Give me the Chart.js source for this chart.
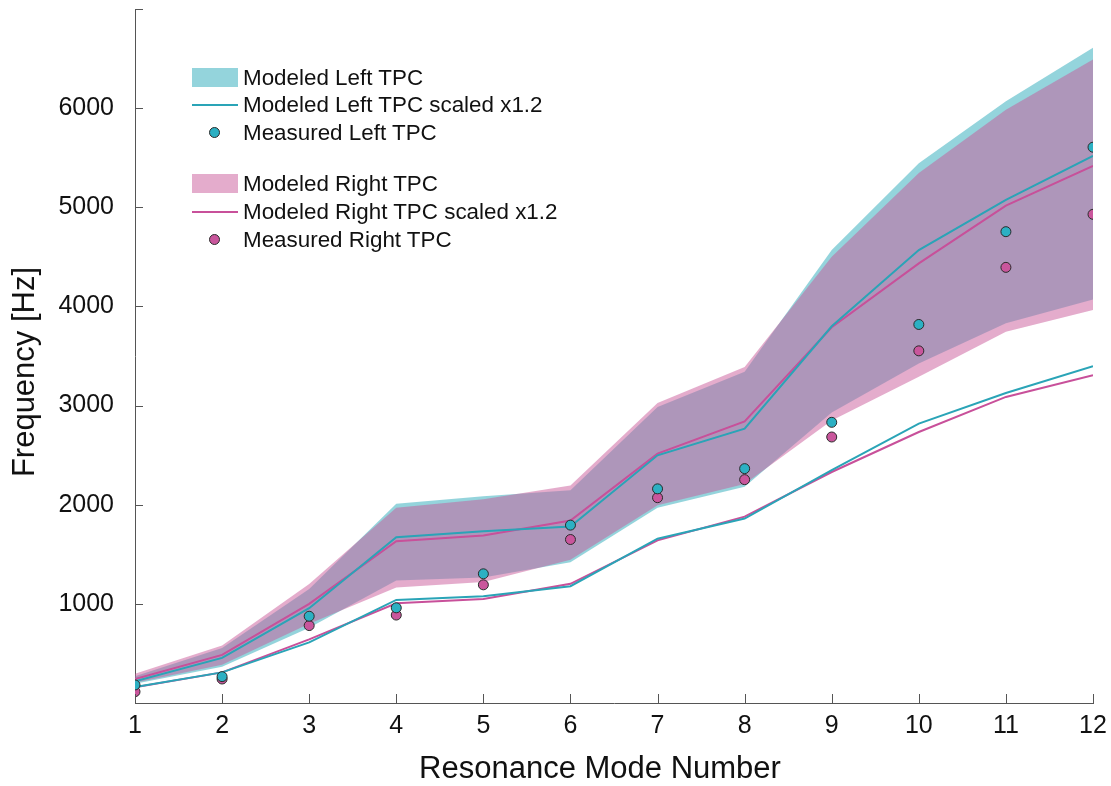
<!DOCTYPE html>
<html>
<head>
<meta charset="utf-8">
<title>Resonance modes of the left and right TPC</title>
<script src="https://cdn.jsdelivr.net/npm/chart.js@4.4.1/dist/chart.umd.min.js"></script>
<style>
  html, body { margin: 0; padding: 0; background: #ffffff; }
  #wrap { position: relative; width: 1111px; height: 786px; overflow: hidden; font-family: 'Liberation Sans', Arial, Helvetica, sans-serif; }
  canvas { display: block; }
  #legend { position: absolute; left: 0; top: 0; font-size: 22.4px; color: #111; }
  .row { position: absolute; left: 192px; height: 28px; line-height: 28px; white-space: nowrap; }
  .key { position: absolute; left: 0; top: 0; width: 46px; height: 28px; }
  .txt { position: absolute; left: 51px; top: 0; }
  .axis-title { position: absolute; font-size: 31px; line-height: 36px; height: 36px; color: #111; text-align: center; white-space: nowrap; }
  #xTitle { left: 300px; top: 750px; width: 600px; }
  #yTitle { left: -176px; top: 354px; width: 400px; transform: rotate(-90deg); }
</style>
</head>
<body>
<div id="wrap">
  <canvas id="chart" width="1111" height="786"></canvas>
  <div id="legend"></div>
  <div id="xTitle" class="axis-title"></div>
  <div id="yTitle" class="axis-title"></div>
</div>
<script>
// Resonance mode numbers (x axis)
const modes = [1, 2, 3, 4, 5, 6, 7, 8, 9, 10, 11, 12];

// Modeled left TPC: range of the model (upper / lower bound)
const leftBandUpper = [270, 555, 1150, 2010, 2085, 2145, 2985, 3340, 4570, 5445, 6070, 6610];
const leftBandLower = [195, 365, 760, 1235, 1265, 1420, 1970, 2180, 2930, 3425, 3830, 4070];

// Modeled right TPC: range of the model (upper / lower bound)
const rightBandUpper = [295, 580, 1200, 1970, 2055, 2195, 3025, 3390, 4500, 5345, 5985, 6490];
const rightBandLower = [205, 385, 800, 1165, 1220, 1445, 1995, 2210, 2850, 3290, 3745, 3965];

// Modeled TPC scaled x1.2 curves
const leftScaledUpper  = [218, 455, 956, 1673, 1733, 1781, 2498, 2767, 3800, 4569, 5074, 5518];
const leftScaledLower  = [160, 309, 612, 1040, 1077, 1178, 1657, 1860, 2350, 2818, 3127, 3397];
const rightScaledUpper = [242, 485, 1000, 1632, 1690, 1841, 2515, 2841, 3790, 4434, 5016, 5417];
const rightScaledLower = [158, 309, 642, 1006, 1050, 1202, 1640, 1880, 2330, 2733, 3087, 3306];

// Measured frequencies
const measuredLeft  = [182, 266, 875, 960, 1303, 1794, 2160, 2364, 2831, 3818, 4754, 5606];
const measuredRight = [114, 242, 781, 887, 1192, 1649, 2071, 2253, 2683, 3552, 4394, 4929];

// Axis tick labels and titles
const xTickLabels = ['1', '2', '3', '4', '5', '6', '7', '8', '9', '10', '11', '12'];
const yTickValues = [1000, 2000, 3000, 4000, 5000, 6000];
const xAxisTitle = 'Resonance Mode Number';
const yAxisTitle = 'Frequency [Hz]';

// Legend entries
const legendLabels = [
  'Modeled Left TPC', 'Modeled Left TPC scaled x1.2', 'Measured Left TPC',
  'Modeled Right TPC', 'Modeled Right TPC scaled x1.2', 'Measured Right TPC'
];

const FONT = "'Liberation Sans', Arial, Helvetica, sans-serif";
const leftFill = 'rgba(41,169,185,0.5)';
const rightFill = 'rgba(201,89,153,0.5)';
const leftLine = '#2aa4b7';
const rightLine = '#c8509a';
const leftDot = '#2cb0c3';
const rightDot = '#c9569c';
const dotEdge = '#2a2a2a';
const axisColor = '#555555';

const pts = arr => arr.map((v, i) => ({ x: modes[i], y: v }));

const band = (upper, lower, color, ord) => [
  { data: pts(upper), borderWidth: 0, pointRadius: 0, backgroundColor: color, fill: '+1', order: ord },
  { data: pts(lower), borderWidth: 0, pointRadius: 0, backgroundColor: color, fill: false, order: ord }
];
const curve = (arr, color, label) => ({
  label, data: pts(arr), borderColor: color, borderWidth: 2, pointRadius: 0, fill: false, order: 1, tension: 0
});
const dots = (arr, color, label) => ({
  label, data: pts(arr), showLine: false, pointRadius: 5, pointHoverRadius: 5,
  pointBackgroundColor: color, pointBorderColor: dotEdge, pointBorderWidth: 1, fill: false, order: 0
});

const datasets = [
  ...band(leftBandUpper, leftBandLower, leftFill, 3),
  ...band(rightBandUpper, rightBandLower, rightFill, 2),
  curve(leftScaledUpper, leftLine, legendLabels[1]),
  curve(leftScaledLower, leftLine, legendLabels[1]),
  curve(rightScaledUpper, rightLine, legendLabels[4]),
  curve(rightScaledLower, rightLine, legendLabels[4]),
  dots(measuredLeft, leftDot, legendLabels[2]),
  dots(measuredRight, rightDot, legendLabels[5])
];

// Inward-pointing tick marks on both axes
const inwardTicks = {
  id: 'inwardTicks',
  afterDraw(chart) {
    const { ctx, chartArea } = chart;
    const xs = chart.scales.x, ys = chart.scales.y;
    ctx.save();
    ctx.strokeStyle = axisColor;
    ctx.lineWidth = 1;
    ctx.beginPath();
    xs.ticks.forEach(t => {
      const px = Math.round(xs.getPixelForValue(t.value)) + 0.5;
      ctx.moveTo(px, chartArea.bottom);
      ctx.lineTo(px, chartArea.bottom - 9);
    });
    ys.ticks.forEach(t => {
      const py = Math.round(ys.getPixelForValue(t.value)) + 0.5;
      ctx.moveTo(chartArea.left, py);
      ctx.lineTo(chartArea.left + 8, py);
    });
    ctx.stroke();
    ctx.restore();
  }
};

new Chart(document.getElementById('chart'), {
  type: 'line',
  data: { datasets },
  options: {
    responsive: false,
    animation: false,
    events: [],
    layout: { padding: { top: 9, right: 18, left: 0, bottom: 0 } },
    plugins: { legend: { display: false }, tooltip: { enabled: false } },
    scales: {
      x: {
        type: 'linear', min: 1, max: 12,
        grid: { display: true, drawOnChartArea: false, drawTicks: false },
        border: { display: true, color: axisColor, width: 1 },
        ticks: {
          stepSize: 1, autoSkip: false, maxRotation: 0, padding: 8,
          color: '#111', font: { family: FONT, size: 25 },
          callback: v => xTickLabels[v - 1]
        },
        afterFit: s => { s.height = 83; s.paddingLeft = 0; s.paddingRight = 0; }
      },
      y: {
        type: 'linear', min: 0, max: 7000,
        grid: { display: true, drawOnChartArea: false, drawTicks: false },
        border: { display: true, color: axisColor, width: 1 },
        ticks: {
          stepSize: 1000, padding: 21,
          color: '#111', font: { family: FONT, size: 25 },
          callback: v => yTickValues.includes(v) ? String(v) : ''
        },
        afterFit: s => { s.width = 135; s.paddingTop = 0; s.paddingBottom = 0; }
      }
    }
  },
  plugins: [inwardTicks]
});

document.getElementById('xTitle').textContent = xAxisTitle;
document.getElementById('yTitle').textContent = yAxisTitle;

// Legend: three entries per TPC, with a gap between the two groups
const legendRows = [
  { kind: 'patch', color: leftFill, center: 77.5 },
  { kind: 'line', color: leftLine, center: 105 },
  { kind: 'dot', color: leftDot, center: 132.5 },
  { kind: 'patch', color: rightFill, center: 183.5 },
  { kind: 'line', color: rightLine, center: 211.5 },
  { kind: 'dot', color: rightDot, center: 239.5 }
];
const legend = document.getElementById('legend');
legendRows.forEach((r, i) => {
  const row = document.createElement('div');
  row.className = 'row';
  row.style.top = (r.center - 14) + 'px';
  const key = document.createElement('div');
  key.className = 'key';
  if (r.kind === 'patch') {
    key.innerHTML = `<div style="position:absolute;left:0;top:4.5px;width:46px;height:19px;background:${r.color}"></div>`;
  } else if (r.kind === 'line') {
    key.innerHTML = `<div style="position:absolute;left:0;top:13px;width:46px;height:2px;background:${r.color}"></div>`;
  } else {
    key.innerHTML = `<div style="position:absolute;left:17px;top:8.5px;width:9px;height:9px;border:1px solid ${dotEdge};border-radius:50%;background:${r.color}"></div>`;
  }
  const txt = document.createElement('div');
  txt.className = 'txt';
  txt.textContent = legendLabels[i];
  row.appendChild(key);
  row.appendChild(txt);
  legend.appendChild(row);
});
</script>
</body>
</html>
